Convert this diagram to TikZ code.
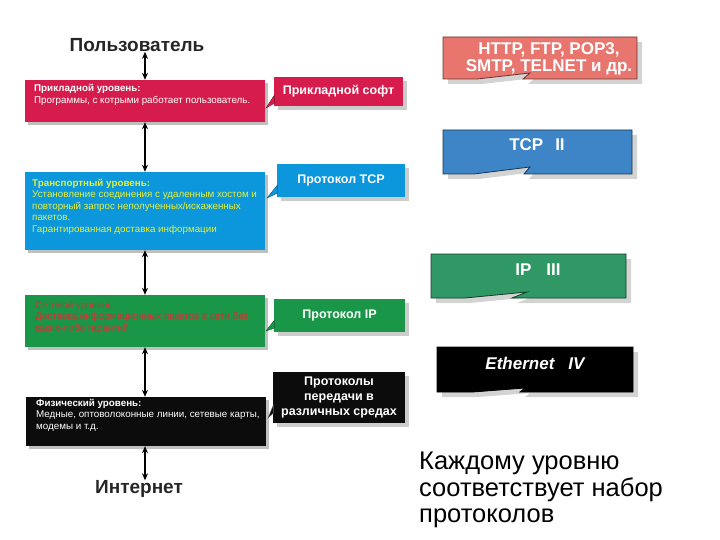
\documentclass[tikz,border=0pt]{standalone}
\usepackage{fontspec}
\setmainfont{Liberation Sans}
\usetikzlibrary{arrows.meta,shadows,calc}
\definecolor{lred}{RGB}{214,28,76}
\definecolor{lblue}{RGB}{12,150,220}
\definecolor{lgreen}{RGB}{26,150,72}
\definecolor{lblack}{RGB}{12,12,12}
\definecolor{ytext}{RGB}{228,240,60}
\definecolor{rtext}{RGB}{210,50,50}
\definecolor{rsalmon}{RGB}{232,117,110}
\definecolor{rblue}{RGB}{61,133,198}
\definecolor{rgreen}{RGB}{48,152,100}
\begin{document}
\begin{tikzpicture}[x=1pt,y=-1pt,
  lbox/.style={minimum width=240pt, inner sep=0pt, drop shadow={opacity=0.5, shadow xshift=3pt, shadow yshift=-3pt}},
  ltext/.style={anchor=north west, inner sep=0pt, align=left, font=\fontsize{9.8}{11.5}\selectfont},
  mbox/.style={inner sep=0pt, text=white, align=center, font=\bfseries\fontsize{12.5}{15}\selectfont, drop shadow={opacity=0.4, shadow xshift=4pt, shadow yshift=-4pt}},
  mtail/.style={line width=0.4pt},
  rshape/.style={line width=0.8pt, drop shadow={opacity=0.35, shadow xshift=5pt, shadow yshift=-5pt}},
  rlabel/.style={inner sep=0pt, text=white, align=center, font=\bfseries\fontsize{17}{16.5}\selectfont},
  bigword/.style={inner sep=0pt, font=\bfseries\fontsize{19}{21}\selectfont},
  darr/.style={{Stealth[length=7pt,width=6pt]}-{Stealth[length=7pt,width=6pt]}, line width=1.3pt, black}
]
\useasboundingbox (0,0) rectangle (720,540);

% top and bottom labels
\node[bigword, text=black!85] (user) at (137,45) {Пользователь};
\node[bigword, text=black!85] (inet) at (139,489) {Интернет};

% left layer boxes
\node[lbox, fill=lred, minimum height=42pt] (app) at (145,101) {};
\node[lbox, fill=lblue, minimum height=78pt] (trans) at (145,211) {};
\node[lbox, fill=lgreen, minimum height=52pt] (net) at (145,321) {};
\node[lbox, fill=lblack, minimum height=49pt] (phys) at (146,421.5) {};

\node[ltext, text=white] (appt) at (34,84.5) {\textbf{Прикладной уровень:}\\Программы, с котрыми работает пользователь.};
\node[ltext, text=ytext] (transt) at (32,179) {\textbf{Транспортный уровень:}\\Установление соединения с удаленным хостом и\\повторный запрос неполученных/искаженных\\пакетов.\\Гарантированная доставка информации};
\node[ltext, text=rtext] (nett) at (35,301) {Сетевой уровень:\\Доставка информационных пакетов в сети без\\каких-либо гарантий};
\node[ltext, text=white] (physt) at (36,399) {\textbf{Физический уровень:}\\Медные, оптоволоконные линии, сетевые карты,\\модемы и т.д.};

% arrows
\draw[darr] (user.south -| app.north) -- (app.north);
\draw[darr] (app.south) -- (trans.north);
\draw[darr] (trans.south) -- (net.north);
\draw[darr] (net.south) -- (phys.north -| net.south);
\draw[darr] (phys.south -| app.south) -- (inet.north -| app.south);

% middle callouts
\node[mbox, fill=lred, minimum width=129pt, minimum height=29pt] (soft) at (338.5,91.5) {Прикладной софт};
\node[mbox, fill=lblue, minimum width=128pt, minimum height=33pt] (tcp) at (341,180.5) {Протокол TCP};
\node[mbox, fill=lgreen, minimum width=131pt, minimum height=33pt] (ip) at (339.5,315.5) {Протокол IP};
\node[mbox, fill=lblack, minimum width=132pt, minimum height=51pt] (media) at (339,397.5) {Протоколы\\передачи в\\различных средах};

\filldraw[mtail, fill=lred, draw=lred!60!black] ($(soft.south west)+(0.5,-11)$) -- (266,108) -- ($(soft.south west)+(0.5,-3)$) -- cycle;
\filldraw[mtail, fill=lblue, draw=lblue!60!black] ($(tcp.south west)+(0.5,-12)$) -- (267,198) -- ($(tcp.south west)+(0.5,-4)$) -- cycle;
\filldraw[mtail, fill=lgreen, draw=lgreen!60!black] ($(ip.south west)+(0.5,-12)$) -- (266,331) -- ($(ip.south west)+(0.5,-4)$) -- cycle;
\filldraw[mtail, fill=lblack, draw=black!60] ($(media.south west)+(0.5,-18)$) -- (268,418) -- ($(media.south west)+(0.5,-10)$) -- cycle;

% right callouts
\filldraw[rshape, fill=rsalmon, draw=rsalmon!45!black] (443,37) -- (637,37) -- (637,79) -- (523,79) -- (530,73) -- (477,79) -- (443,79) -- cycle;
\filldraw[rshape, fill=rblue, draw=rblue!40!black] (443,130) -- (632,130) -- (632,174) -- (524,174) -- (530,167) -- (474,174) -- (443,174) -- cycle;
\filldraw[rshape, fill=rgreen, draw=rgreen!40!black] (431,254) -- (626,254) -- (626,298) -- (512,298) -- (527,292) -- (465,298) -- (431,298) -- cycle;
\filldraw[rshape, fill=black, draw=black] (437,347) -- (633,347) -- (633,392) -- (520,392) -- (525,388) -- (473,392) -- (437,392) -- cycle;

\node[rlabel] (http) at (549,59) {HTTP, FTP, POP3,\\SMTP, TELNET и др.};
\node[rlabel] (tcpl) at (537,145) {TCP\hspace{12pt}II};
\node[rlabel] (ipl) at (538,270) {IP\hspace{15pt}III};
\node[rlabel, font=\bfseries\itshape\fontsize{17}{16.5}\selectfont] (ethl) at (535,363) {Ethernet\hspace{14pt}IV};

% note
\node[anchor=north west, inner sep=0pt, align=left, font=\fontsize{25.5}{26.5}\selectfont] (note) at (419,452) {Каждому уровню\\соответствует набор\\протоколов};
\end{tikzpicture}
\end{document}
